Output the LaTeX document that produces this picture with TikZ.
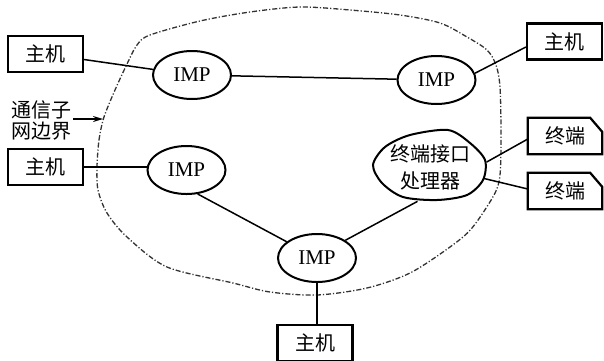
\documentclass[tikz,border=0pt]{standalone}
\usepackage{fontspec}
\setmainfont{Liberation Serif}
\newfontfamily\cjk{Noto Sans CJK SC}
\usetikzlibrary{shapes.geometric,arrows.meta}
\begin{document}
\begin{tikzpicture}[x=1pt,y=-1pt,
  hostbox/.style={draw,line width=2.2pt,minimum width=75pt,minimum height=36pt,inner sep=0pt,font=\cjk\fontsize{20}{20}\selectfont},
  imp/.style={draw,ellipse,line width=2pt,minimum width=78pt,minimum height=48pt,inner sep=0pt,font=\fontsize{21}{21}\selectfont},
  termtext/.style={minimum width=74pt,minimum height=36pt,inner sep=0pt,font=\cjk\fontsize{20}{20}\selectfont},
  termframe/.style={line width=2.2pt,line join=miter},
  tipframe/.style={line width=2pt},
  link/.style={line width=1.5pt},
  boundary/.style={line width=1.3pt,dash pattern=on 5pt off 2pt on 1.2pt off 2pt,color=black!80}
]
\clip (0,0) rectangle (604,360);
\fill[white] (0,0) rectangle (604,360);

% subnet boundary
\draw[boundary] plot[smooth cycle] coordinates {(97,167) (99,140) (104,117) (115,90) (127,64) (137,45) (150,35) (200,21) (250,12) (300,7) (350,10) (400,15) (440,23) (467,37) (487,50) (496,65) (500,87) (501,133) (500,175) (494,195) (472,228) (450,247) (410,273) (367,288) (317,295) (270,292) (233,283) (167,267) (127,237) (107,213) (98,190)};

% hosts
\node[hostbox] (h1) at (45.5,54) {主机};
\node[hostbox] (h2) at (45.5,167) {主机};
\node[hostbox] (h3) at (564.5,41.5) {主机};
\node[hostbox] (h4) at (315,343) {主机};

% IMPs
\node[imp] (i1) at (192,75) {IMP};
\node[imp] (i2) at (436.5,80) {IMP};
\node[imp] (i3) at (186.5,170) {IMP};
\node[imp] (i4) at (317,258) {IMP};

% terminal interface processor
\node[ellipse,minimum width=114pt,minimum height=70pt,inner sep=0pt,align=center,font=\cjk\fontsize{20}{27}\selectfont] (tip) at (430,167) {终端接口\\处理器};
\draw[tipframe] plot[smooth cycle] coordinates {(373,165) (385,147) (410,135) (448,130) (470,143) (485,160) (483,180) (467,195) (437,200) (403,197) (382,183)};

% terminals
\node[termtext] (t1) at (565,136) {终端};
\node[termtext] (t2) at (565,191) {终端};
\draw[termframe] (t1.south west) -- (t1.north west) -- ([xshift=-12pt]t1.north east) -- ([yshift=-14pt]t1.north east) -- (t1.south east) -- cycle;
\draw[termframe] (t2.south west) -- (t2.north west) -- ([xshift=-12pt]t2.north east) -- ([yshift=-14pt]t2.north east) -- (t2.south east) -- cycle;

% label
\node[font=\cjk\fontsize{20}{21}\selectfont,align=center,inner sep=0pt] (lbl) at (41,120) {通信子\\网边界};
\coordinate (bnd) at (103,119);
\draw[link,-{Stealth[length=10pt,width=6pt]},shorten <=2pt] (lbl.east |- bnd) -- (bnd);

% connectors
\draw[link] (h1) -- (i1);
\draw[link] (i1) -- (i2);
\draw[link] (i2.10) -- ([yshift=-5.5pt]h3.west);
\draw[link] (h2.east) -- (h2.east -| i3.west);
\draw[link] (i3.-65) -- (i4);
\draw[link] (i4.north east) -- (tip.250);
\draw[link] (tip.5) -- ([yshift=-3pt]t1.west);
\draw[link] (tip.-12) -- ([yshift=2pt]t2.west);
\draw[link] (i4.south) -- (i4.south |- h4.north);
\end{tikzpicture}
\end{document}
